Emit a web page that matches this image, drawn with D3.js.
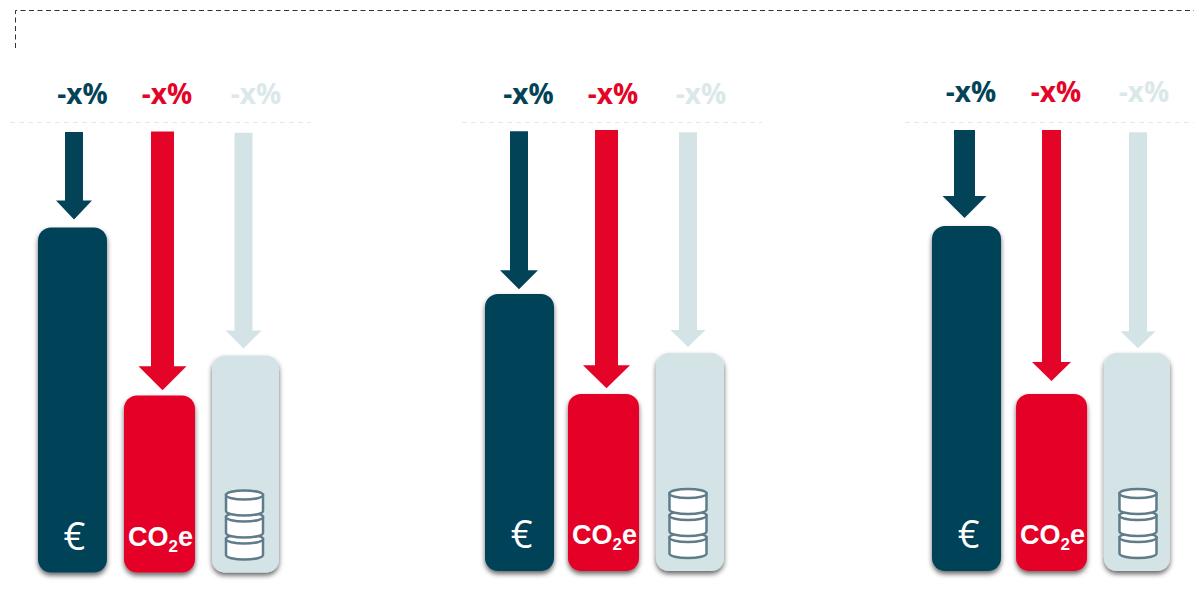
<!DOCTYPE html>
<html>
<head>
<meta charset="utf-8">
<script src="https://cdn.jsdelivr.net/npm/d3@7/dist/d3.min.js"></script>
<style>
html, body {margin: 0; padding: 0; background: #fff; overflow: hidden;}
svg {display: block;}
</style>
</head>
<body>
<div id="canvas"></div>
<script type="text/javascript">

var panels = ["a", "b", "c"];
var series = ["cost", "co2e", "material"];
var changeLabels = ["-x%", "-x%", "-x%"];
var barValues = [
    [100, 51.3, 62.9],
    [80.3, 51.3, 63.2],
    [100, 51.3, 63.2]
];
var arrowStart = [
    [127.7, 127.8, 127.5],
    [127.5, 127.8, 127.2],
    [127.8, 127.8, 127.2]
];
var arrowEnd = [
    [102.3, 52.8, 64.9],
    [81.7, 53.0, 64.9],
    [102.3, 55.1, 64.6]
];

var width = 1194, height = 595;
var colors = ["#034358", "#e40428", "#d3e3e6"];
var labelColors = ["#034358", "#e40428", "#dbe8ea"];

// layout per panel
var layout = [
    {x0: 38, x1: 279, base: 572.5, labelX: [82.5, 167, 256], labelY: 104, ruleX: [10, 311], coinDx: -1,
     barDx: [0, 0, 2], barDw: [0, 2, -2],
     arrowX: [74, 162.5, 243.5], shaft: [18, 23, 18], head: [36, 48, 36], headH: [19, 24, 18]},
    {x0: 485, x1: 724, base: 571, labelX: [528.5, 613, 701], labelY: 104, ruleX: [462, 762], coinDx: -2,
     barDx: [0, -2.3, 0.4], barDw: [0.6, 2.6, -0.4],
     arrowX: [519, 606.5, 688], shaft: [18, 23, 18], head: [38, 47, 35], headH: [19, 23, 17]},
    {x0: 932, x1: 1170, base: 571, labelX: [971, 1056, 1144], labelY: 102, ruleX: [905, 1194], coinDx: 1,
     barDx: [0, -0.9, 2.1], barDw: [0.9, 2.9, -2.1],
     arrowX: [964.5, 1051.5, 1138], shaft: [21, 19, 18], head: [44, 39, 35], headH: [22, 19, 17]}
];

var svg = d3.select("#canvas").append("svg")
        .attr("width", width)
        .attr("height", height);

var filter = svg.append("defs").append("filter")
        .attr("id", "shadow")
        .attr("x", "-20%").attr("y", "-10%")
        .attr("width", "140%").attr("height", "120%");
filter.append("feDropShadow")
        .attr("dx", 0).attr("dy", 3)
        .attr("stdDeviation", 2.8)
        .attr("flood-color", "#000")
        .attr("flood-opacity", 0.6);

// top frame
svg.append("path")
        .attr("d", "M15.5,48V10.5H" + width)
        .attr("fill", "none")
        .attr("stroke", "#333")
        .attr("stroke-width", 1)
        .attr("stroke-dasharray", "5,3.5");

panels.forEach(function (p, pi) {
    var lay = layout[pi];
    var y = d3.scaleLinear().domain([0, 100]).range([lay.base, lay.base - 345]);
    var x = d3.scaleBand().domain(series).range([lay.x0, lay.x1]).paddingInner(0.198);
    var g = svg.append("g").attr("class", "panel-" + p);

    function barLeft(d, i) { return x(d) + lay.barDx[i]; }
    function barWidth(d, i) { return x.bandwidth() + lay.barDw[i]; }
    function barMid(i) { return barLeft(series[i], i) + barWidth(series[i], i) / 2; }

    g.append("line")
            .attr("x1", lay.ruleX[0]).attr("x2", lay.ruleX[1])
            .attr("y1", 122.5).attr("y2", 122.5)
            .attr("stroke", "#dfeaea")
            .attr("stroke-width", 1)
            .attr("stroke-dasharray", "5,4");

    g.selectAll("text.change").data(series).enter().append("text")
            .attr("class", "change")
            .attr("x", function (d, i) { return lay.labelX[i]; })
            .attr("y", lay.labelY)
            .attr("text-anchor", "middle")
            .attr("font-family", "Open Sans")
            .attr("font-weight", 700)
            .attr("font-size", 28)
            .attr("fill", function (d, i) { return labelColors[i]; })
            .text(function (d, i) { return changeLabels[i]; });

    // arrows
    g.selectAll("path.arrow").data(series).enter().append("path")
            .attr("class", "arrow")
            .attr("fill", function (d, i) { return colors[i]; })
            .attr("d", function (d, i) {
                var c = lay.arrowX[i], s = lay.shaft[i] / 2, h = lay.head[i] / 2;
                var top = y(arrowStart[pi][i]), tip = y(arrowEnd[pi][i]);
                var neck = tip - lay.headH[i];
                var a = d3.path();
                a.moveTo(c - s, top);
                a.lineTo(c + s, top);
                a.lineTo(c + s, neck);
                a.lineTo(c + h, neck);
                a.lineTo(c, tip);
                a.lineTo(c - h, neck);
                a.lineTo(c - s, neck);
                a.closePath();
                return a.toString();
            });

    // bars
    g.selectAll("rect.bar").data(series).enter().append("rect")
            .attr("class", "bar")
            .attr("x", barLeft)
            .attr("width", barWidth)
            .attr("y", function (d, i) { return y(barValues[pi][i]); })
            .attr("height", function (d, i) { return y(0) - y(barValues[pi][i]); })
            .attr("rx", 13)
            .attr("fill", function (d, i) { return colors[i]; })
            .attr("filter", "url(#shadow)");

    // euro sign
    g.append("text")
            .attr("x", barMid(0) + 2)
            .attr("y", lay.base - 23)
            .attr("text-anchor", "middle")
            .attr("font-family", "Open Sans")
            .attr("font-size", 38)
            .attr("fill", "#fff")
            .text("€");

    // CO2e
    var co2 = g.append("text")
            .attr("x", barMid(1) + 1)
            .attr("y", lay.base - 27)
            .attr("text-anchor", "middle")
            .attr("font-family", "Liberation Sans")
            .attr("font-weight", 700)
            .attr("font-size", 27)
            .attr("fill", "#fff");
    co2.append("tspan").text("CO");
    co2.append("tspan").attr("font-size", 17).attr("dy", 6).text("2");
    co2.append("tspan").attr("dy", -6).text("e");

    // stack of coins, bottom one first so the upper ones overlap it
    var cx = barMid(2) + lay.coinDx;
    var coins = g.append("g")
            .attr("fill", "#fff")
            .attr("stroke", "#5f7c8a")
            .attr("stroke-width", 2.5);
    [33.5, 55.5, 77.5].forEach(function (up) {
        var c = lay.base - up;
        var rx = 18.5, ry = 4.5, h = 16;
        coins.append("path")
                .attr("d", "M" + (cx - rx) + "," + c + "V" + (c + h) +
                    "A" + rx + "," + ry + " 0 0 0 " + (cx + rx) + "," + (c + h) +
                    "V" + c + "Z");
        coins.append("ellipse")
                .attr("cx", cx).attr("cy", c)
                .attr("rx", rx).attr("ry", ry);
    });
});

</script>
</body>
</html>
